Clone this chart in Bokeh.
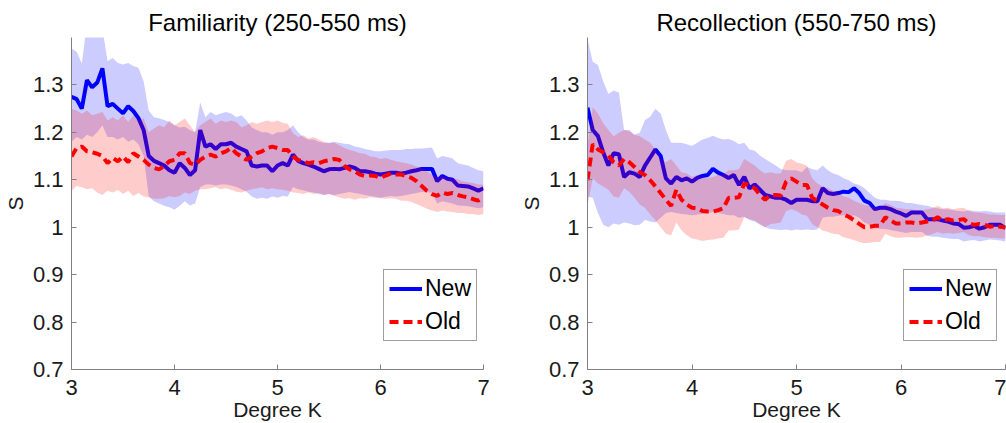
from bokeh.plotting import figure
from bokeh.models import Range1d, FixedTicker, CustomJSTickFormatter, Legend, ColumnDataSource
from bokeh.layouts import row
from bokeh.embed import file_html
from bokeh.resources import INLINE

# Degree K sampling grid
K = [round(3 + 0.05 * i, 2) for i in range(81)]

# Familiarity (250-550 ms)
fam_new = [1.275,1.27,1.25,1.31,1.295,1.305,1.335,1.255,1.26,1.25,
           1.24,1.255,1.245,1.23,1.205,1.15,1.14,1.135,1.13,1.12,
           1.115,1.135,1.125,1.11,1.12,1.205,1.17,1.175,1.165,1.175,
           1.175,1.178,1.17,1.165,1.16,1.13,1.128,1.13,1.13,1.118,
           1.13,1.135,1.13,1.153,1.14,1.135,1.132,1.128,1.123,1.118,
           1.122,1.123,1.122,1.125,1.128,1.125,1.118,1.118,1.116,1.113,
           1.111,1.113,1.115,1.115,1.113,1.115,1.118,1.12,1.123,1.123,
           1.123,1.097,1.108,1.102,1.10,1.088,1.087,1.086,1.082,1.077,
           1.082]
fam_new_hi = [1.377,1.37,1.345,1.43,1.43,1.43,1.42,1.35,1.357,1.346,
              1.343,1.346,1.34,1.336,1.308,1.246,1.232,1.23,1.226,1.222,
              1.215,1.21,1.212,1.205,1.2,1.263,1.232,1.243,1.236,1.24,
              1.243,1.24,1.232,1.236,1.225,1.21,1.205,1.2,1.2,1.195,
              1.2,1.2,1.205,1.215,1.2,1.19,1.185,1.185,1.18,1.178,
              1.178,1.18,1.178,1.176,1.175,1.17,1.168,1.165,1.163,1.16,
              1.16,1.162,1.163,1.163,1.163,1.165,1.165,1.166,1.166,1.167,
              1.168,1.145,1.15,1.148,1.145,1.135,1.132,1.13,1.125,1.12,
              1.118]
fam_new_lo = [1.18,1.19,1.185,1.195,1.19,1.2,1.215,1.19,1.19,1.185,
              1.19,1.18,1.185,1.175,1.15,1.065,1.055,1.05,1.045,1.042,
              1.037,1.045,1.055,1.046,1.05,1.085,1.09,1.09,1.088,1.09,
              1.09,1.088,1.085,1.08,1.075,1.065,1.06,1.062,1.06,1.065,
              1.062,1.066,1.065,1.085,1.08,1.078,1.075,1.073,1.07,1.068,
              1.07,1.068,1.07,1.072,1.074,1.072,1.07,1.068,1.066,1.064,
              1.062,1.064,1.066,1.065,1.066,1.068,1.07,1.072,1.074,1.074,
              1.072,1.05,1.055,1.052,1.05,1.046,1.045,1.044,1.042,1.04,
              1.042]
fam_old = [1.149,1.167,1.17,1.16,1.158,1.155,1.15,1.135,1.146,1.139,
           1.149,1.137,1.156,1.149,1.142,1.132,1.125,1.122,1.129,1.139,
           1.142,1.156,1.156,1.135,1.132,1.142,1.149,1.153,1.149,1.156,
           1.16,1.167,1.156,1.149,1.142,1.149,1.156,1.16,1.167,1.17,
           1.167,1.163,1.163,1.149,1.142,1.139,1.135,1.137,1.135,1.139,
           1.141,1.144,1.142,1.129,1.122,1.118,1.111,1.108,1.109,1.108,
           1.104,1.109,1.113,1.111,1.111,1.108,1.104,1.097,1.087,1.077,
           1.07,1.066,1.073,1.07,1.072,1.068,1.065,1.063,1.059,1.056,
           1.063]
fam_old_hi = [1.25,1.246,1.239,1.246,1.236,1.239,1.243,1.225,1.232,1.225,
              1.236,1.222,1.236,1.225,1.229,1.2,1.208,1.215,1.211,1.225,
              1.215,1.222,1.229,1.215,1.2,1.215,1.222,1.229,1.218,1.225,
              1.222,1.225,1.222,1.211,1.215,1.222,1.218,1.222,1.225,1.222,
              1.225,1.22,1.218,1.198,1.19,1.194,1.187,1.19,1.185,1.18,
              1.177,1.178,1.173,1.167,1.163,1.16,1.156,1.155,1.149,1.148,
              1.144,1.146,1.142,1.139,1.137,1.135,1.132,1.128,1.125,1.118,
              1.111,1.104,1.108,1.104,1.102,1.101,1.097,1.095,1.093,1.09,
              1.09]
fam_old_lo = [1.077,1.087,1.084,1.08,1.082,1.073,1.068,1.077,1.073,1.079,
              1.07,1.077,1.066,1.072,1.065,1.063,1.06,1.06,1.061,1.066,
              1.063,1.066,1.073,1.07,1.077,1.08,1.08,1.082,1.084,1.08,
              1.082,1.079,1.075,1.073,1.077,1.08,1.082,1.084,1.08,1.082,
              1.08,1.079,1.077,1.073,1.072,1.07,1.073,1.07,1.072,1.068,
              1.07,1.066,1.063,1.06,1.061,1.058,1.061,1.06,1.063,1.062,
              1.061,1.06,1.061,1.06,1.056,1.056,1.053,1.049,1.044,1.039,
              1.035,1.032,1.035,1.033,1.032,1.03,1.03,1.028,1.028,1.026,
              1.028]

# Recollection (550-750 ms)
rec_new = [1.252,1.205,1.192,1.158,1.13,1.156,1.154,1.106,1.116,1.113,
           1.106,1.13,1.147,1.164,1.15,1.103,1.092,1.106,1.099,1.103,
           1.096,1.104,1.108,1.11,1.123,1.115,1.11,1.104,1.11,1.089,
           1.106,1.082,1.09,1.079,1.068,1.065,1.062,1.062,1.058,1.051,
           1.058,1.058,1.058,1.055,1.055,1.082,1.072,1.07,1.072,1.075,
           1.074,1.082,1.072,1.056,1.051,1.038,1.041,1.041,1.038,1.033,
           1.029,1.024,1.031,1.031,1.031,1.017,1.017,1.017,1.014,1.012,
           1.008,1.007,0.999,1.0,1.003,0.997,1.0,1.005,1.005,1.005,
           0.998]
rec_new_hi = [1.397,1.349,1.342,1.308,1.281,1.288,1.284,1.205,1.205,1.195,
              1.199,1.226,1.233,1.25,1.24,1.205,1.178,1.178,1.178,1.175,
              1.171,1.178,1.185,1.188,1.193,1.188,1.185,1.186,1.182,1.175,
              1.178,1.164,1.161,1.151,1.144,1.137,1.13,1.123,1.12,1.12,
              1.12,1.116,1.127,1.123,1.12,1.13,1.12,1.113,1.11,1.103,
              1.099,1.092,1.089,1.082,1.072,1.062,1.058,1.058,1.056,1.056,
              1.055,1.051,1.051,1.049,1.047,1.045,1.042,1.04,1.038,1.038,
              1.036,1.034,1.033,1.036,1.034,1.033,1.034,1.033,1.031,1.031,
              1.031]
rec_new_lo = [1.065,1.062,1.03,1.005,1.0,1.008,1.005,1.01,1.008,1.004,
              1.005,1.015,1.012,1.01,1.02,1.03,1.032,1.03,1.028,1.027,
              1.025,1.027,1.028,1.03,1.032,1.03,1.028,1.025,1.025,1.02,
              1.022,1.015,1.012,1.005,1.0,0.996,0.995,0.994,0.995,0.993,
              0.995,0.994,0.995,0.994,0.995,1.02,1.022,1.022,1.024,1.025,
              1.022,1.025,1.02,1.01,1.005,0.998,0.997,0.996,0.994,0.992,
              0.99,0.988,0.99,0.99,0.99,0.982,0.98,0.98,0.978,0.976,
              0.975,0.975,0.97,0.972,0.973,0.97,0.972,0.974,0.973,0.972,
              0.97]
rec_old = [1.099,1.175,1.164,1.158,1.151,1.137,1.13,1.144,1.137,1.127,
           1.116,1.11,1.099,1.086,1.072,1.058,1.045,1.079,1.058,1.048,
           1.041,1.04,1.034,1.033,1.033,1.036,1.04,1.062,1.062,1.063,
           1.092,1.089,1.082,1.068,1.058,1.068,1.068,1.067,1.096,1.103,
           1.096,1.089,1.089,1.062,1.055,1.048,1.041,1.036,1.034,1.027,
           1.022,1.015,1.007,1.0,1.001,1.003,1.003,1.021,1.014,1.008,
           1.008,1.01,1.01,1.008,1.01,1.012,1.014,1.021,1.014,1.017,
           1.014,1.015,1.017,1.008,1.005,1.007,1.005,1.001,1.003,1.001,
           1.0]
rec_old_hi = [1.171,1.253,1.24,1.219,1.205,1.192,1.199,1.205,1.202,1.195,
              1.192,1.185,1.178,1.164,1.144,1.137,1.144,1.13,1.116,1.113,
              1.106,1.11,1.103,1.104,1.106,1.11,1.111,1.12,1.12,1.123,
              1.144,1.137,1.13,1.12,1.113,1.116,1.113,1.113,1.14,1.144,
              1.137,1.134,1.13,1.103,1.092,1.086,1.082,1.077,1.072,1.065,
              1.062,1.056,1.051,1.047,1.045,1.041,1.042,1.051,1.047,1.041,
              1.04,1.038,1.038,1.036,1.036,1.038,1.04,1.045,1.04,1.041,
              1.038,1.04,1.041,1.034,1.031,1.031,1.029,1.027,1.027,1.026,
              1.026]
rec_old_lo = [1.045,1.103,1.092,1.086,1.079,1.065,1.062,1.082,1.075,1.062,
              1.048,1.041,1.027,1.014,1.0,0.986,0.983,1.01,0.993,0.983,
              0.976,0.974,0.971,0.973,0.974,0.976,0.978,0.993,0.993,0.995,
              1.021,1.017,1.014,1.007,1.0,1.007,1.008,1.01,1.034,1.038,
              1.034,1.027,1.024,1.007,1.0,0.993,0.99,0.986,0.985,0.979,
              0.976,0.973,0.969,0.966,0.967,0.969,0.969,0.986,0.981,0.978,
              0.978,0.979,0.979,0.978,0.979,0.983,0.985,0.99,0.986,0.988,
              0.986,0.988,0.99,0.983,0.981,0.981,0.979,0.978,0.978,0.976,
              0.976]

x_ticks = [3, 4, 5, 6, 7]
y_ticks = [0.7, 0.8, 0.9, 1.0, 1.1, 1.2, 1.3]
series_labels = ["New", "Old"]

FONT = "Liberation Sans"
AXIS_COL = "#808080"
TEXT_COL = "#1a1a1a"


def make_panel(title, new, new_lo, new_hi, old, old_lo, old_hi,
               border_left, border_top, border_right, legend_x):
    p = figure(width=503, height=423, x_range=Range1d(3, 7), y_range=Range1d(0.7, 1.4),
               output_backend="svg", toolbar_location=None,
               min_border_left=border_left, min_border_right=border_right,
               min_border_top=border_top, min_border_bottom=50)
    p.title.text = title
    p.title.align = "center"
    p.title.text_font = FONT
    p.title.text_font_size = "24px"
    p.title.text_font_style = "normal"
    p.title.text_color = "#000000"
    p.title.standoff = 4
    p.outline_line_color = None
    p.grid.visible = False
    p.background_fill_color = "white"
    p.border_fill_color = "white"

    for ax in (p.xaxis[0], p.yaxis[0]):
        ax.axis_line_color = AXIS_COL
        ax.axis_line_width = 1
        ax.major_tick_line_color = AXIS_COL
        ax.major_tick_in = 5
        ax.major_tick_out = 0
        ax.minor_tick_line_color = None
        ax.major_label_text_font = FONT
        ax.major_label_text_font_size = "22px"
        ax.major_label_text_color = TEXT_COL
        ax.axis_label_text_font = FONT
        ax.axis_label_text_font_size = "21px"
        ax.axis_label_text_font_style = "normal"
        ax.axis_label_text_color = TEXT_COL
        ax.formatter = CustomJSTickFormatter(code="return Number(tick.toFixed(2)).toString();")

    p.xaxis.ticker = FixedTicker(ticks=x_ticks)
    p.yaxis.ticker = FixedTicker(ticks=y_ticks)
    p.xaxis.axis_label = "Degree K"
    p.yaxis.axis_label = "S"
    p.xaxis.major_label_standoff = 10
    p.xaxis.axis_label_standoff = 0
    p.yaxis.major_label_standoff = 8
    p.yaxis.axis_label_standoff = 3

    src = ColumnDataSource(dict(k=K, new=new, new_lo=new_lo, new_hi=new_hi,
                                old=old, old_lo=old_lo, old_hi=old_hi))
    p.varea(x="k", y1="new_lo", y2="new_hi", source=src, fill_color="#0000ff", fill_alpha=0.2)
    r_new = p.line(x="k", y="new", source=src, line_color="#0000ff", line_width=4)
    p.varea(x="k", y1="old_lo", y2="old_hi", source=src, fill_color="#ff0000", fill_alpha=0.2)
    r_old = p.line(x="k", y="old", source=src, line_color="#ff0000", line_width=4,
                   line_dash="9 5")

    legend = Legend(items=[(series_labels[0], [r_new]), (series_labels[1], [r_old])],
                    location=(legend_x, 28), margin=0, padding=5, spacing=6,
                    glyph_width=33, glyph_height=23, label_standoff=3,
                    label_text_font=FONT, label_text_font_size="23px",
                    label_text_color="#000000",
                    border_line_color="#404040", border_line_width=1,
                    background_fill_color="white", background_fill_alpha=1.0)
    p.add_layout(legend)
    return p


p1 = make_panel("Familiarity (250-550 ms)", fam_new, fam_new_lo, fam_new_hi,
                fam_old, fam_old_lo, fam_old_hi, 70, 37, 20, 312)
p2 = make_panel("Recollection (550-750 ms)", rec_new, rec_new_lo, rec_new_hi,
                rec_old, rec_old_lo, rec_old_hi, 84, 32, 1, 316)

layout = row(p1, p2)
open("out.html", "w").write(file_html(layout, INLINE))
